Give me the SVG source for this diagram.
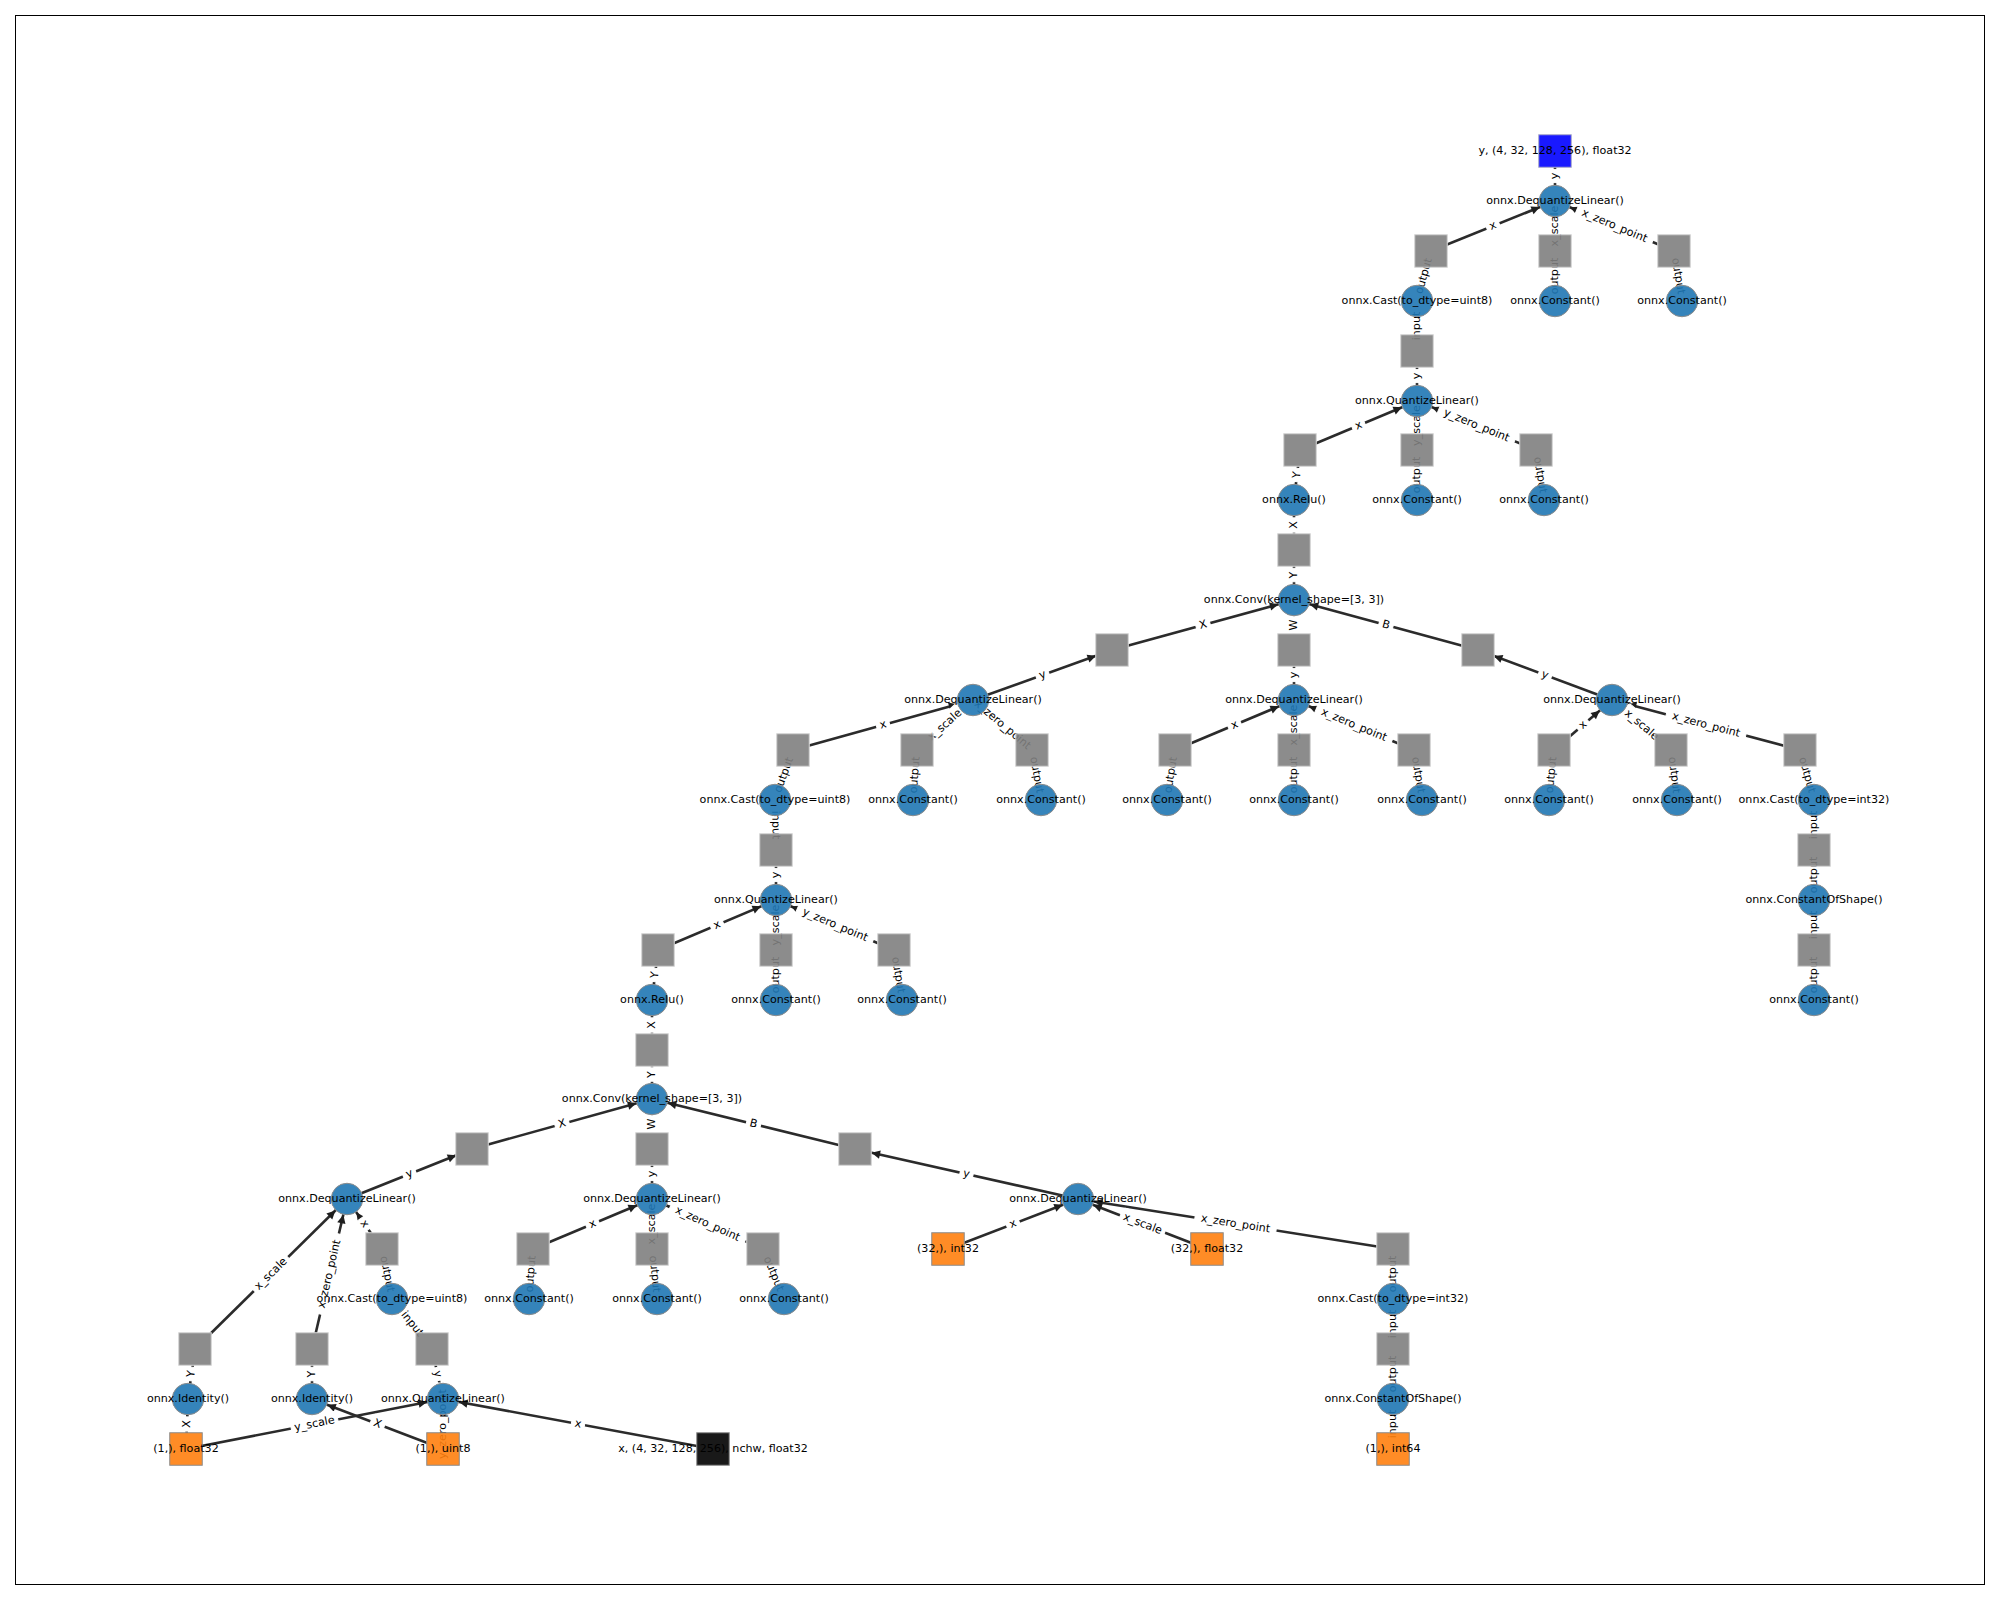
<svg xmlns="http://www.w3.org/2000/svg" width="2000" height="1600" viewBox="0 0 2000 1600">
<style>
text{font-family:"DejaVu Sans","Liberation Sans",sans-serif;font-size:11.11px;fill:#000;text-anchor:middle}
.op circle{fill:#1f77b4;fill-opacity:.9;stroke:#8c8c8c;stroke-width:1}
.t rect{fill:#808080;fill-opacity:.9;stroke:#d4d4d4;stroke-width:1}
.i rect{fill:#ff7f0e;fill-opacity:.9;stroke:#8c8c8c;stroke-width:1}
.in rect{fill:#000;fill-opacity:.9;stroke:#8c8c8c;stroke-width:1}
.out rect{fill:#0000ff;fill-opacity:.9;stroke:#a8a8c8;stroke-width:1}
#edges path{stroke:#2b2b2b;stroke-width:2.6;fill:none}
#edges .tc{marker-end:url(#ac)}
#edges .ts{marker-end:url(#as)}
.el rect{fill:#fff;stroke:#fff;stroke-width:1}
</style>
<defs>
<marker id="ac" markerUnits="userSpaceOnUse" orient="auto" refX="16.3" refY="0" markerWidth="1" markerHeight="1" overflow="visible"><path d="M0,0 L-8.5,-4.2 L-8.5,4.2 Z" fill="#1e1e1e"/></marker>
<marker id="as" markerUnits="userSpaceOnUse" orient="auto" refX="17" refY="0" markerWidth="1" markerHeight="1" overflow="visible"><path d="M0,0 L-8.5,-4.2 L-8.5,4.2 Z" fill="#1e1e1e"/></marker>
<mask id="nm" maskUnits="userSpaceOnUse" x="0" y="0" width="2000" height="1600">
<rect x="0" y="0" width="2000" height="1600" fill="#fff"/>
<g fill="#000">
<circle cx="1555" cy="201" r="15.75"/><circle cx="1417" cy="301" r="15.75"/><circle cx="1555" cy="301" r="15.75"/><circle cx="1682" cy="301" r="15.75"/>
<circle cx="1417" cy="401" r="15.75"/><circle cx="1294" cy="500" r="15.75"/><circle cx="1417" cy="500" r="15.75"/><circle cx="1544" cy="500" r="15.75"/>
<circle cx="1294" cy="600" r="15.75"/><circle cx="973" cy="700" r="15.75"/><circle cx="1294" cy="700" r="15.75"/><circle cx="1612" cy="700" r="15.75"/>
<circle cx="775" cy="800" r="15.75"/><circle cx="913" cy="800" r="15.75"/><circle cx="1041" cy="800" r="15.75"/><circle cx="1167" cy="800" r="15.75"/><circle cx="1294" cy="800" r="15.75"/><circle cx="1422" cy="800" r="15.75"/><circle cx="1549" cy="800" r="15.75"/><circle cx="1677" cy="800" r="15.75"/><circle cx="1814" cy="800" r="15.75"/>
<circle cx="776" cy="900" r="15.75"/><circle cx="1814" cy="900" r="15.75"/>
<circle cx="652" cy="1000" r="15.75"/><circle cx="776" cy="1000" r="15.75"/><circle cx="902" cy="1000" r="15.75"/><circle cx="1814" cy="1000" r="15.75"/>
<circle cx="652" cy="1099" r="15.75"/>
<circle cx="347" cy="1199" r="15.75"/><circle cx="652" cy="1199" r="15.75"/><circle cx="1078" cy="1199" r="15.75"/>
<circle cx="392" cy="1299" r="15.75"/><circle cx="529" cy="1299" r="15.75"/><circle cx="657" cy="1299" r="15.75"/><circle cx="784" cy="1299" r="15.75"/><circle cx="1393" cy="1299" r="15.75"/>
<circle cx="188" cy="1399" r="15.75"/><circle cx="312" cy="1399" r="15.75"/><circle cx="443" cy="1399" r="15.75"/><circle cx="1393" cy="1399" r="15.75"/>
<rect x="1538.75" y="134.75" width="32.5" height="32.5"/>
<rect x="1414.75" y="234.75" width="32.5" height="32.5"/><rect x="1538.75" y="234.75" width="32.5" height="32.5"/><rect x="1657.75" y="234.75" width="32.5" height="32.5"/>
<rect x="1400.75" y="334.75" width="32.5" height="32.5"/>
<rect x="1283.75" y="433.75" width="32.5" height="32.5"/><rect x="1400.75" y="433.75" width="32.5" height="32.5"/><rect x="1519.75" y="433.75" width="32.5" height="32.5"/>
<rect x="1277.75" y="533.75" width="32.5" height="32.5"/>
<rect x="1095.75" y="633.75" width="32.5" height="32.5"/><rect x="1277.75" y="633.75" width="32.5" height="32.5"/><rect x="1461.75" y="633.75" width="32.5" height="32.5"/>
<rect x="776.75" y="733.75" width="32.5" height="32.5"/><rect x="900.75" y="733.75" width="32.5" height="32.5"/><rect x="1015.75" y="733.75" width="32.5" height="32.5"/><rect x="1158.75" y="733.75" width="32.5" height="32.5"/><rect x="1277.75" y="733.75" width="32.5" height="32.5"/><rect x="1397.75" y="733.75" width="32.5" height="32.5"/><rect x="1537.75" y="733.75" width="32.5" height="32.5"/><rect x="1654.75" y="733.75" width="32.5" height="32.5"/><rect x="1783.75" y="733.75" width="32.5" height="32.5"/>
<rect x="759.75" y="833.75" width="32.5" height="32.5"/><rect x="1797.75" y="833.75" width="32.5" height="32.5"/>
<rect x="641.75" y="933.75" width="32.5" height="32.5"/><rect x="759.75" y="933.75" width="32.5" height="32.5"/><rect x="877.75" y="933.75" width="32.5" height="32.5"/><rect x="1797.75" y="933.75" width="32.5" height="32.5"/>
<rect x="635.75" y="1033.75" width="32.5" height="32.5"/>
<rect x="455.75" y="1132.75" width="32.5" height="32.5"/><rect x="635.75" y="1132.75" width="32.5" height="32.5"/><rect x="838.75" y="1132.75" width="32.5" height="32.5"/>
<rect x="365.75" y="1232.75" width="32.5" height="32.5"/><rect x="516.75" y="1232.75" width="32.5" height="32.5"/><rect x="635.75" y="1232.75" width="32.5" height="32.5"/><rect x="746.75" y="1232.75" width="32.5" height="32.5"/><rect x="931.75" y="1232.75" width="32.5" height="32.5"/><rect x="1190.75" y="1232.75" width="32.5" height="32.5"/><rect x="1376.75" y="1232.75" width="32.5" height="32.5"/>
<rect x="178.75" y="1332.75" width="32.5" height="32.5"/><rect x="295.75" y="1332.75" width="32.5" height="32.5"/><rect x="415.75" y="1332.75" width="32.5" height="32.5"/><rect x="1376.75" y="1332.75" width="32.5" height="32.5"/>
<rect x="169.75" y="1432.75" width="32.5" height="32.5"/><rect x="426.75" y="1432.75" width="32.5" height="32.5"/><rect x="696.75" y="1432.75" width="32.5" height="32.5"/><rect x="1376.75" y="1432.75" width="32.5" height="32.5"/>
</g>
</mask>
</defs>
<rect x="0" y="0" width="2000" height="1600" fill="#fff"/>
<rect x="15.5" y="15.5" width="1969" height="1569" fill="none" stroke="#000" stroke-width="1"/>

<g id="edges" mask="url(#nm)">
<path class="ts" d="M1555,201 L1555,151"/>
<path class="tc" d="M1431,251 L1555,201"/>
<path class="tc" d="M1555,251 L1555,201"/>
<path class="tc" d="M1674,251 L1555,201"/>
<path class="ts" d="M1417,301 L1431,251"/>
<path class="ts" d="M1555,301 L1555,251"/>
<path class="ts" d="M1682,301 L1674,251"/>
<path class="tc" d="M1417,351 L1417,301"/>
<path class="ts" d="M1417,401 L1417,351"/>
<path class="tc" d="M1300,450 L1417,401"/>
<path class="tc" d="M1417,450 L1417,401"/>
<path class="tc" d="M1536,450 L1417,401"/>
<path class="ts" d="M1294,500 L1300,450"/>
<path class="ts" d="M1417,500 L1417,450"/>
<path class="ts" d="M1544,500 L1536,450"/>
<path class="tc" d="M1294,550 L1294,500"/>
<path class="ts" d="M1294,600 L1294,550"/>
<path class="tc" d="M1112,650 L1294,600"/>
<path class="tc" d="M1294,650 L1294,600"/>
<path class="tc" d="M1478,650 L1294,600"/>
<path class="ts" d="M973,700 L1112,650"/>
<path class="ts" d="M1294,700 L1294,650"/>
<path class="ts" d="M1612,700 L1478,650"/>
<path class="tc" d="M793,750 L973,700"/>
<path class="tc" d="M917,750 L973,700"/>
<path class="tc" d="M1032,750 L973,700"/>
<path class="tc" d="M1175,750 L1294,700"/>
<path class="tc" d="M1294,750 L1294,700"/>
<path class="tc" d="M1414,750 L1294,700"/>
<path class="tc" d="M1554,750 L1612,700"/>
<path class="tc" d="M1671,750 L1612,700"/>
<path class="tc" d="M1800,750 L1612,700"/>
<path class="ts" d="M775,800 L793,750"/>
<path class="ts" d="M913,800 L917,750"/>
<path class="ts" d="M1041,800 L1032,750"/>
<path class="ts" d="M1167,800 L1175,750"/>
<path class="ts" d="M1294,800 L1294,750"/>
<path class="ts" d="M1422,800 L1414,750"/>
<path class="ts" d="M1549,800 L1554,750"/>
<path class="ts" d="M1677,800 L1671,750"/>
<path class="ts" d="M1814,800 L1800,750"/>
<path class="tc" d="M776,850 L775,800"/>
<path class="tc" d="M1814,850 L1814,800"/>
<path class="ts" d="M776,900 L776,850"/>
<path class="ts" d="M1814,900 L1814,850"/>
<path class="tc" d="M658,950 L776,900"/>
<path class="tc" d="M776,950 L776,900"/>
<path class="tc" d="M894,950 L776,900"/>
<path class="tc" d="M1814,950 L1814,900"/>
<path class="ts" d="M652,1000 L658,950"/>
<path class="ts" d="M776,1000 L776,950"/>
<path class="ts" d="M902,1000 L894,950"/>
<path class="ts" d="M1814,1000 L1814,950"/>
<path class="tc" d="M652,1050 L652,1000"/>
<path class="ts" d="M652,1099 L652,1050"/>
<path class="tc" d="M472,1149 L652,1099"/>
<path class="tc" d="M652,1149 L652,1099"/>
<path class="tc" d="M855,1149 L652,1099"/>
<path class="ts" d="M347,1199 L472,1149"/>
<path class="ts" d="M652,1199 L652,1149"/>
<path class="ts" d="M1078,1199 L855,1149"/>
<path class="tc" d="M382,1249 L347,1199"/>
<path class="tc" d="M195,1349 L347,1199"/>
<path class="tc" d="M312,1349 L347,1199"/>
<path class="tc" d="M533,1249 L652,1199"/>
<path class="tc" d="M652,1249 L652,1199"/>
<path class="tc" d="M763,1249 L652,1199"/>
<path class="tc" d="M948,1249 L1078,1199"/>
<path class="tc" d="M1207,1249 L1078,1199"/>
<path class="tc" d="M1393,1249 L1078,1199"/>
<path class="ts" d="M392,1299 L382,1249"/>
<path class="ts" d="M529,1299 L533,1249"/>
<path class="ts" d="M657,1299 L652,1249"/>
<path class="ts" d="M784,1299 L763,1249"/>
<path class="ts" d="M1393,1299 L1393,1249"/>
<path class="tc" d="M432,1349 L392,1299"/>
<path class="tc" d="M1393,1349 L1393,1299"/>
<path class="ts" d="M443,1399 L432,1349"/>
<path class="ts" d="M1393,1399 L1393,1349"/>
<path class="ts" d="M188,1399 L195,1349"/>
<path class="ts" d="M312,1399 L312,1349"/>
<path class="tc" d="M713,1449 L443,1399"/>
<path class="tc" d="M186,1449 L443,1399"/>
<path class="tc" d="M443,1449 L443,1399"/>
<path class="tc" d="M1393,1449 L1393,1399"/>
<path class="tc" d="M186,1449 L188,1399"/>
<path class="tc" d="M443,1449 L312,1399"/>
</g>

<g id="edge-labels">
<g class="el" transform="translate(1555,176) rotate(-90)"><rect x="-6.6" y="-8.7" width="13.2" height="17.4" rx="3.3"/><text y="3.1">y</text></g>
<g class="el" transform="translate(1493,226) rotate(-21.96)"><rect x="-6.6" y="-8.7" width="13.2" height="17.4" rx="3.3"/><text y="3.1">x</text></g>
<g class="el" transform="translate(1555,226) rotate(-90)"><rect x="-23.7" y="-8.7" width="47.4" height="17.4" rx="3.3"/><text y="3.1">x_scale</text></g>
<g class="el" transform="translate(1614.5,226) rotate(22.79)"><rect x="-41.05" y="-8.7" width="82.1" height="17.4" rx="3.3"/><text y="3.1">x_zero_point</text></g>
<g class="el" transform="translate(1424,276) rotate(-74.36)"><rect x="-21.65" y="-8.7" width="43.3" height="17.4" rx="3.3"/><text y="3.1">output</text></g>
<g class="el" transform="translate(1555,276) rotate(-90)"><rect x="-21.65" y="-8.7" width="43.3" height="17.4" rx="3.3"/><text y="3.1">output</text></g>
<g class="el" transform="translate(1678,276) rotate(80.91)"><rect x="-21.65" y="-8.7" width="43.3" height="17.4" rx="3.3"/><text y="3.1">output</text></g>
<g class="el" transform="translate(1417,326) rotate(-90)"><rect x="-17.6" y="-8.7" width="35.2" height="17.4" rx="3.3"/><text y="3.1">input</text></g>
<g class="el" transform="translate(1417,376) rotate(-90)"><rect x="-6.6" y="-8.7" width="13.2" height="17.4" rx="3.3"/><text y="3.1">y</text></g>
<g class="el" transform="translate(1358.5,425.5) rotate(-22.72)"><rect x="-6.6" y="-8.7" width="13.2" height="17.4" rx="3.3"/><text y="3.1">x</text></g>
<g class="el" transform="translate(1417,425.5) rotate(-90)"><rect x="-23.7" y="-8.7" width="47.4" height="17.4" rx="3.3"/><text y="3.1">y_scale</text></g>
<g class="el" transform="translate(1476.5,425.5) rotate(22.38)"><rect x="-41.05" y="-8.7" width="82.1" height="17.4" rx="3.3"/><text y="3.1">y_zero_point</text></g>
<g class="el" transform="translate(1297,475) rotate(-83.16)"><rect x="-6.75" y="-8.7" width="13.5" height="17.4" rx="3.3"/><text y="3.1">Y</text></g>
<g class="el" transform="translate(1417,475) rotate(-90)"><rect x="-21.65" y="-8.7" width="43.3" height="17.4" rx="3.3"/><text y="3.1">output</text></g>
<g class="el" transform="translate(1540,475) rotate(80.91)"><rect x="-21.65" y="-8.7" width="43.3" height="17.4" rx="3.3"/><text y="3.1">output</text></g>
<g class="el" transform="translate(1294,525) rotate(-90)"><rect x="-7.15" y="-8.7" width="14.3" height="17.4" rx="3.3"/><text y="3.1">X</text></g>
<g class="el" transform="translate(1294,575) rotate(-90)"><rect x="-6.75" y="-8.7" width="13.5" height="17.4" rx="3.3"/><text y="3.1">Y</text></g>
<g class="el" transform="translate(1203,625) rotate(-15.36)"><rect x="-7.15" y="-8.7" width="14.3" height="17.4" rx="3.3"/><text y="3.1">X</text></g>
<g class="el" transform="translate(1294,625) rotate(-90)"><rect x="-8.85" y="-8.7" width="17.7" height="17.4" rx="3.3"/><text y="3.1">W</text></g>
<g class="el" transform="translate(1386,625) rotate(15.2)"><rect x="-7.15" y="-8.7" width="14.3" height="17.4" rx="3.3"/><text y="3.1">B</text></g>
<g class="el" transform="translate(1042.5,675) rotate(-19.78)"><rect x="-6.6" y="-8.7" width="13.2" height="17.4" rx="3.3"/><text y="3.1">y</text></g>
<g class="el" transform="translate(1294,675) rotate(-90)"><rect x="-6.6" y="-8.7" width="13.2" height="17.4" rx="3.3"/><text y="3.1">y</text></g>
<g class="el" transform="translate(1545,675) rotate(20.46)"><rect x="-6.6" y="-8.7" width="13.2" height="17.4" rx="3.3"/><text y="3.1">y</text></g>
<g class="el" transform="translate(883,725) rotate(-15.52)"><rect x="-6.6" y="-8.7" width="13.2" height="17.4" rx="3.3"/><text y="3.1">x</text></g>
<g class="el" transform="translate(945,725) rotate(-41.76)"><rect x="-23.7" y="-8.7" width="47.4" height="17.4" rx="3.3"/><text y="3.1">x_scale</text></g>
<g class="el" transform="translate(1002.5,725) rotate(40.28)"><rect x="-41.05" y="-8.7" width="82.1" height="17.4" rx="3.3"/><text y="3.1">x_zero_point</text></g>
<g class="el" transform="translate(1234.5,725) rotate(-22.79)"><rect x="-6.6" y="-8.7" width="13.2" height="17.4" rx="3.3"/><text y="3.1">x</text></g>
<g class="el" transform="translate(1294,725) rotate(-90)"><rect x="-23.7" y="-8.7" width="47.4" height="17.4" rx="3.3"/><text y="3.1">x_scale</text></g>
<g class="el" transform="translate(1354,725) rotate(22.62)"><rect x="-41.05" y="-8.7" width="82.1" height="17.4" rx="3.3"/><text y="3.1">x_zero_point</text></g>
<g class="el" transform="translate(1583,725) rotate(-40.76)"><rect x="-6.6" y="-8.7" width="13.2" height="17.4" rx="3.3"/><text y="3.1">x</text></g>
<g class="el" transform="translate(1641.5,725) rotate(40.28)"><rect x="-23.7" y="-8.7" width="47.4" height="17.4" rx="3.3"/><text y="3.1">x_scale</text></g>
<g class="el" transform="translate(1706,725) rotate(14.89)"><rect x="-41.05" y="-8.7" width="82.1" height="17.4" rx="3.3"/><text y="3.1">x_zero_point</text></g>
<g class="el" transform="translate(784,775) rotate(-70.2)"><rect x="-21.65" y="-8.7" width="43.3" height="17.4" rx="3.3"/><text y="3.1">output</text></g>
<g class="el" transform="translate(915,775) rotate(-85.43)"><rect x="-21.65" y="-8.7" width="43.3" height="17.4" rx="3.3"/><text y="3.1">output</text></g>
<g class="el" transform="translate(1036.5,775) rotate(79.8)"><rect x="-21.65" y="-8.7" width="43.3" height="17.4" rx="3.3"/><text y="3.1">output</text></g>
<g class="el" transform="translate(1171,775) rotate(-80.91)"><rect x="-21.65" y="-8.7" width="43.3" height="17.4" rx="3.3"/><text y="3.1">output</text></g>
<g class="el" transform="translate(1294,775) rotate(-90)"><rect x="-21.65" y="-8.7" width="43.3" height="17.4" rx="3.3"/><text y="3.1">output</text></g>
<g class="el" transform="translate(1418,775) rotate(80.91)"><rect x="-21.65" y="-8.7" width="43.3" height="17.4" rx="3.3"/><text y="3.1">output</text></g>
<g class="el" transform="translate(1551.5,775) rotate(-84.29)"><rect x="-21.65" y="-8.7" width="43.3" height="17.4" rx="3.3"/><text y="3.1">output</text></g>
<g class="el" transform="translate(1674,775) rotate(83.16)"><rect x="-21.65" y="-8.7" width="43.3" height="17.4" rx="3.3"/><text y="3.1">output</text></g>
<g class="el" transform="translate(1807,775) rotate(74.36)"><rect x="-21.65" y="-8.7" width="43.3" height="17.4" rx="3.3"/><text y="3.1">output</text></g>
<g class="el" transform="translate(775.5,825) rotate(88.85)"><rect x="-17.6" y="-8.7" width="35.2" height="17.4" rx="3.3"/><text y="3.1">input</text></g>
<g class="el" transform="translate(1814,825) rotate(-90)"><rect x="-17.6" y="-8.7" width="35.2" height="17.4" rx="3.3"/><text y="3.1">input</text></g>
<g class="el" transform="translate(776,875) rotate(-90)"><rect x="-6.6" y="-8.7" width="13.2" height="17.4" rx="3.3"/><text y="3.1">y</text></g>
<g class="el" transform="translate(1814,875) rotate(-90)"><rect x="-21.65" y="-8.7" width="43.3" height="17.4" rx="3.3"/><text y="3.1">output</text></g>
<g class="el" transform="translate(717,925) rotate(-22.96)"><rect x="-6.6" y="-8.7" width="13.2" height="17.4" rx="3.3"/><text y="3.1">x</text></g>
<g class="el" transform="translate(776,925) rotate(-90)"><rect x="-23.7" y="-8.7" width="47.4" height="17.4" rx="3.3"/><text y="3.1">y_scale</text></g>
<g class="el" transform="translate(835,925) rotate(22.96)"><rect x="-41.05" y="-8.7" width="82.1" height="17.4" rx="3.3"/><text y="3.1">y_zero_point</text></g>
<g class="el" transform="translate(1814,925) rotate(-90)"><rect x="-17.6" y="-8.7" width="35.2" height="17.4" rx="3.3"/><text y="3.1">input</text></g>
<g class="el" transform="translate(655,975) rotate(-83.16)"><rect x="-6.75" y="-8.7" width="13.5" height="17.4" rx="3.3"/><text y="3.1">Y</text></g>
<g class="el" transform="translate(776,975) rotate(-90)"><rect x="-21.65" y="-8.7" width="43.3" height="17.4" rx="3.3"/><text y="3.1">output</text></g>
<g class="el" transform="translate(898,975) rotate(80.91)"><rect x="-21.65" y="-8.7" width="43.3" height="17.4" rx="3.3"/><text y="3.1">output</text></g>
<g class="el" transform="translate(1814,975) rotate(-90)"><rect x="-21.65" y="-8.7" width="43.3" height="17.4" rx="3.3"/><text y="3.1">output</text></g>
<g class="el" transform="translate(652,1025) rotate(-90)"><rect x="-7.15" y="-8.7" width="14.3" height="17.4" rx="3.3"/><text y="3.1">X</text></g>
<g class="el" transform="translate(652,1074.5) rotate(-90)"><rect x="-6.75" y="-8.7" width="13.5" height="17.4" rx="3.3"/><text y="3.1">Y</text></g>
<g class="el" transform="translate(562,1124) rotate(-15.52)"><rect x="-7.15" y="-8.7" width="14.3" height="17.4" rx="3.3"/><text y="3.1">X</text></g>
<g class="el" transform="translate(652,1124) rotate(-90)"><rect x="-8.85" y="-8.7" width="17.7" height="17.4" rx="3.3"/><text y="3.1">W</text></g>
<g class="el" transform="translate(753.5,1124) rotate(13.84)"><rect x="-7.15" y="-8.7" width="14.3" height="17.4" rx="3.3"/><text y="3.1">B</text></g>
<g class="el" transform="translate(409.5,1174) rotate(-21.8)"><rect x="-6.6" y="-8.7" width="13.2" height="17.4" rx="3.3"/><text y="3.1">y</text></g>
<g class="el" transform="translate(652,1174) rotate(-90)"><rect x="-6.6" y="-8.7" width="13.2" height="17.4" rx="3.3"/><text y="3.1">y</text></g>
<g class="el" transform="translate(966.5,1174) rotate(12.64)"><rect x="-6.6" y="-8.7" width="13.2" height="17.4" rx="3.3"/><text y="3.1">y</text></g>
<g class="el" transform="translate(364.5,1224) rotate(55.01)"><rect x="-6.6" y="-8.7" width="13.2" height="17.4" rx="3.3"/><text y="3.1">x</text></g>
<g class="el" transform="translate(271,1274) rotate(-44.62)"><rect x="-23.7" y="-8.7" width="47.4" height="17.4" rx="3.3"/><text y="3.1">x_scale</text></g>
<g class="el" transform="translate(329.5,1274) rotate(-76.87)"><rect x="-41.05" y="-8.7" width="82.1" height="17.4" rx="3.3"/><text y="3.1">x_zero_point</text></g>
<g class="el" transform="translate(592.5,1224) rotate(-22.79)"><rect x="-6.6" y="-8.7" width="13.2" height="17.4" rx="3.3"/><text y="3.1">x</text></g>
<g class="el" transform="translate(652,1224) rotate(-90)"><rect x="-23.7" y="-8.7" width="47.4" height="17.4" rx="3.3"/><text y="3.1">x_scale</text></g>
<g class="el" transform="translate(707.5,1224) rotate(24.25)"><rect x="-41.05" y="-8.7" width="82.1" height="17.4" rx="3.3"/><text y="3.1">x_zero_point</text></g>
<g class="el" transform="translate(1013,1224) rotate(-21.04)"><rect x="-6.6" y="-8.7" width="13.2" height="17.4" rx="3.3"/><text y="3.1">x</text></g>
<g class="el" transform="translate(1142.5,1224) rotate(21.18)"><rect x="-23.7" y="-8.7" width="47.4" height="17.4" rx="3.3"/><text y="3.1">x_scale</text></g>
<g class="el" transform="translate(1235.5,1224) rotate(9.02)"><rect x="-41.05" y="-8.7" width="82.1" height="17.4" rx="3.3"/><text y="3.1">x_zero_point</text></g>
<g class="el" transform="translate(387,1274) rotate(78.69)"><rect x="-21.65" y="-8.7" width="43.3" height="17.4" rx="3.3"/><text y="3.1">output</text></g>
<g class="el" transform="translate(531,1274) rotate(-85.43)"><rect x="-21.65" y="-8.7" width="43.3" height="17.4" rx="3.3"/><text y="3.1">output</text></g>
<g class="el" transform="translate(654.5,1274) rotate(84.29)"><rect x="-21.65" y="-8.7" width="43.3" height="17.4" rx="3.3"/><text y="3.1">output</text></g>
<g class="el" transform="translate(773.5,1274) rotate(67.22)"><rect x="-21.65" y="-8.7" width="43.3" height="17.4" rx="3.3"/><text y="3.1">output</text></g>
<g class="el" transform="translate(1393,1274) rotate(-90)"><rect x="-21.65" y="-8.7" width="43.3" height="17.4" rx="3.3"/><text y="3.1">output</text></g>
<g class="el" transform="translate(412,1324) rotate(51.34)"><rect x="-17.6" y="-8.7" width="35.2" height="17.4" rx="3.3"/><text y="3.1">input</text></g>
<g class="el" transform="translate(1393,1324) rotate(-90)"><rect x="-17.6" y="-8.7" width="35.2" height="17.4" rx="3.3"/><text y="3.1">input</text></g>
<g class="el" transform="translate(437.5,1374) rotate(77.59)"><rect x="-6.6" y="-8.7" width="13.2" height="17.4" rx="3.3"/><text y="3.1">y</text></g>
<g class="el" transform="translate(1393,1374) rotate(-90)"><rect x="-21.65" y="-8.7" width="43.3" height="17.4" rx="3.3"/><text y="3.1">output</text></g>
<g class="el" transform="translate(191.5,1374) rotate(-82.03)"><rect x="-6.75" y="-8.7" width="13.5" height="17.4" rx="3.3"/><text y="3.1">Y</text></g>
<g class="el" transform="translate(312,1374) rotate(-90)"><rect x="-6.75" y="-8.7" width="13.5" height="17.4" rx="3.3"/><text y="3.1">Y</text></g>
<g class="el" transform="translate(578,1424) rotate(10.49)"><rect x="-6.6" y="-8.7" width="13.2" height="17.4" rx="3.3"/><text y="3.1">x</text></g>
<g class="el" transform="translate(314.5,1424) rotate(-11.01)"><rect x="-23.7" y="-8.7" width="47.4" height="17.4" rx="3.3"/><text y="3.1">y_scale</text></g>
<g class="el" transform="translate(443,1424) rotate(-90)"><rect x="-41.05" y="-8.7" width="82.1" height="17.4" rx="3.3"/><text y="3.1">y_zero_point</text></g>
<g class="el" transform="translate(1393,1424) rotate(-90)"><rect x="-17.6" y="-8.7" width="35.2" height="17.4" rx="3.3"/><text y="3.1">input</text></g>
<g class="el" transform="translate(187,1424) rotate(-87.71)"><rect x="-7.15" y="-8.7" width="14.3" height="17.4" rx="3.3"/><text y="3.1">X</text></g>
<g class="el" transform="translate(377.5,1424) rotate(20.89)"><rect x="-7.15" y="-8.7" width="14.3" height="17.4" rx="3.3"/><text y="3.1">X</text></g>
</g>

<g id="nodes">
<g id="n_out" class="out" transform="translate(1555,151)"><rect x="-16.25" y="-16.25" width="32.5" height="32.5"/><text y="3.1">y, (4, 32, 128, 256), float32</text></g>
<g id="n_dq1" class="op" transform="translate(1555,201)"><circle r="15.75"/><text y="3.1">onnx.DequantizeLinear()</text></g>
<g id="n_g1" class="t" transform="translate(1431,251)"><rect x="-16.25" y="-16.25" width="32.5" height="32.5"/></g>
<g id="n_g2" class="t" transform="translate(1555,251)"><rect x="-16.25" y="-16.25" width="32.5" height="32.5"/></g>
<g id="n_g3" class="t" transform="translate(1674,251)"><rect x="-16.25" y="-16.25" width="32.5" height="32.5"/></g>
<g id="n_cast1" class="op" transform="translate(1417,301)"><circle r="15.75"/><text y="3.1">onnx.Cast(to_dtype=uint8)</text></g>
<g id="n_c1" class="op" transform="translate(1555,301)"><circle r="15.75"/><text y="3.1">onnx.Constant()</text></g>
<g id="n_c2" class="op" transform="translate(1682,301)"><circle r="15.75"/><text y="3.1">onnx.Constant()</text></g>
<g id="n_g4" class="t" transform="translate(1417,351)"><rect x="-16.25" y="-16.25" width="32.5" height="32.5"/></g>
<g id="n_q1" class="op" transform="translate(1417,401)"><circle r="15.75"/><text y="3.1">onnx.QuantizeLinear()</text></g>
<g id="n_g5" class="t" transform="translate(1300,450)"><rect x="-16.25" y="-16.25" width="32.5" height="32.5"/></g>
<g id="n_g6" class="t" transform="translate(1417,450)"><rect x="-16.25" y="-16.25" width="32.5" height="32.5"/></g>
<g id="n_g7" class="t" transform="translate(1536,450)"><rect x="-16.25" y="-16.25" width="32.5" height="32.5"/></g>
<g id="n_relu1" class="op" transform="translate(1294,500)"><circle r="15.75"/><text y="3.1">onnx.Relu()</text></g>
<g id="n_c3" class="op" transform="translate(1417,500)"><circle r="15.75"/><text y="3.1">onnx.Constant()</text></g>
<g id="n_c4" class="op" transform="translate(1544,500)"><circle r="15.75"/><text y="3.1">onnx.Constant()</text></g>
<g id="n_g8" class="t" transform="translate(1294,550)"><rect x="-16.25" y="-16.25" width="32.5" height="32.5"/></g>
<g id="n_conv1" class="op" transform="translate(1294,600)"><circle r="15.75"/><text y="3.1">onnx.Conv(kernel_shape=[3, 3])</text></g>
<g id="n_g9" class="t" transform="translate(1112,650)"><rect x="-16.25" y="-16.25" width="32.5" height="32.5"/></g>
<g id="n_g10" class="t" transform="translate(1294,650)"><rect x="-16.25" y="-16.25" width="32.5" height="32.5"/></g>
<g id="n_g11" class="t" transform="translate(1478,650)"><rect x="-16.25" y="-16.25" width="32.5" height="32.5"/></g>
<g id="n_dq2" class="op" transform="translate(973,700)"><circle r="15.75"/><text y="3.1">onnx.DequantizeLinear()</text></g>
<g id="n_dq3" class="op" transform="translate(1294,700)"><circle r="15.75"/><text y="3.1">onnx.DequantizeLinear()</text></g>
<g id="n_dq4" class="op" transform="translate(1612,700)"><circle r="15.75"/><text y="3.1">onnx.DequantizeLinear()</text></g>
<g id="n_g12" class="t" transform="translate(793,750)"><rect x="-16.25" y="-16.25" width="32.5" height="32.5"/></g>
<g id="n_g13" class="t" transform="translate(917,750)"><rect x="-16.25" y="-16.25" width="32.5" height="32.5"/></g>
<g id="n_g14" class="t" transform="translate(1032,750)"><rect x="-16.25" y="-16.25" width="32.5" height="32.5"/></g>
<g id="n_g15" class="t" transform="translate(1175,750)"><rect x="-16.25" y="-16.25" width="32.5" height="32.5"/></g>
<g id="n_g16" class="t" transform="translate(1294,750)"><rect x="-16.25" y="-16.25" width="32.5" height="32.5"/></g>
<g id="n_g17" class="t" transform="translate(1414,750)"><rect x="-16.25" y="-16.25" width="32.5" height="32.5"/></g>
<g id="n_g18" class="t" transform="translate(1554,750)"><rect x="-16.25" y="-16.25" width="32.5" height="32.5"/></g>
<g id="n_g19" class="t" transform="translate(1671,750)"><rect x="-16.25" y="-16.25" width="32.5" height="32.5"/></g>
<g id="n_g20" class="t" transform="translate(1800,750)"><rect x="-16.25" y="-16.25" width="32.5" height="32.5"/></g>
<g id="n_cast2" class="op" transform="translate(775,800)"><circle r="15.75"/><text y="3.1">onnx.Cast(to_dtype=uint8)</text></g>
<g id="n_c5" class="op" transform="translate(913,800)"><circle r="15.75"/><text y="3.1">onnx.Constant()</text></g>
<g id="n_c6" class="op" transform="translate(1041,800)"><circle r="15.75"/><text y="3.1">onnx.Constant()</text></g>
<g id="n_c7" class="op" transform="translate(1167,800)"><circle r="15.75"/><text y="3.1">onnx.Constant()</text></g>
<g id="n_c8" class="op" transform="translate(1294,800)"><circle r="15.75"/><text y="3.1">onnx.Constant()</text></g>
<g id="n_c9" class="op" transform="translate(1422,800)"><circle r="15.75"/><text y="3.1">onnx.Constant()</text></g>
<g id="n_c10" class="op" transform="translate(1549,800)"><circle r="15.75"/><text y="3.1">onnx.Constant()</text></g>
<g id="n_c11" class="op" transform="translate(1677,800)"><circle r="15.75"/><text y="3.1">onnx.Constant()</text></g>
<g id="n_cast3" class="op" transform="translate(1814,800)"><circle r="15.75"/><text y="3.1">onnx.Cast(to_dtype=int32)</text></g>
<g id="n_g21" class="t" transform="translate(776,850)"><rect x="-16.25" y="-16.25" width="32.5" height="32.5"/></g>
<g id="n_g22" class="t" transform="translate(1814,850)"><rect x="-16.25" y="-16.25" width="32.5" height="32.5"/></g>
<g id="n_q2" class="op" transform="translate(776,900)"><circle r="15.75"/><text y="3.1">onnx.QuantizeLinear()</text></g>
<g id="n_cos1" class="op" transform="translate(1814,900)"><circle r="15.75"/><text y="3.1">onnx.ConstantOfShape()</text></g>
<g id="n_g23" class="t" transform="translate(658,950)"><rect x="-16.25" y="-16.25" width="32.5" height="32.5"/></g>
<g id="n_g24" class="t" transform="translate(776,950)"><rect x="-16.25" y="-16.25" width="32.5" height="32.5"/></g>
<g id="n_g25" class="t" transform="translate(894,950)"><rect x="-16.25" y="-16.25" width="32.5" height="32.5"/></g>
<g id="n_g26" class="t" transform="translate(1814,950)"><rect x="-16.25" y="-16.25" width="32.5" height="32.5"/></g>
<g id="n_relu2" class="op" transform="translate(652,1000)"><circle r="15.75"/><text y="3.1">onnx.Relu()</text></g>
<g id="n_c12" class="op" transform="translate(776,1000)"><circle r="15.75"/><text y="3.1">onnx.Constant()</text></g>
<g id="n_c13" class="op" transform="translate(902,1000)"><circle r="15.75"/><text y="3.1">onnx.Constant()</text></g>
<g id="n_c14" class="op" transform="translate(1814,1000)"><circle r="15.75"/><text y="3.1">onnx.Constant()</text></g>
<g id="n_g27" class="t" transform="translate(652,1050)"><rect x="-16.25" y="-16.25" width="32.5" height="32.5"/></g>
<g id="n_conv2" class="op" transform="translate(652,1099)"><circle r="15.75"/><text y="3.1">onnx.Conv(kernel_shape=[3, 3])</text></g>
<g id="n_g28" class="t" transform="translate(472,1149)"><rect x="-16.25" y="-16.25" width="32.5" height="32.5"/></g>
<g id="n_g29" class="t" transform="translate(652,1149)"><rect x="-16.25" y="-16.25" width="32.5" height="32.5"/></g>
<g id="n_g30" class="t" transform="translate(855,1149)"><rect x="-16.25" y="-16.25" width="32.5" height="32.5"/></g>
<g id="n_dq5" class="op" transform="translate(347,1199)"><circle r="15.75"/><text y="3.1">onnx.DequantizeLinear()</text></g>
<g id="n_dq6" class="op" transform="translate(652,1199)"><circle r="15.75"/><text y="3.1">onnx.DequantizeLinear()</text></g>
<g id="n_dq7" class="op" transform="translate(1078,1199)"><circle r="15.75"/><text y="3.1">onnx.DequantizeLinear()</text></g>
<g id="n_g31" class="t" transform="translate(382,1249)"><rect x="-16.25" y="-16.25" width="32.5" height="32.5"/></g>
<g id="n_g32" class="t" transform="translate(533,1249)"><rect x="-16.25" y="-16.25" width="32.5" height="32.5"/></g>
<g id="n_g33" class="t" transform="translate(652,1249)"><rect x="-16.25" y="-16.25" width="32.5" height="32.5"/></g>
<g id="n_g34" class="t" transform="translate(763,1249)"><rect x="-16.25" y="-16.25" width="32.5" height="32.5"/></g>
<g id="n_o1" class="i" transform="translate(948,1249)"><rect x="-16.25" y="-16.25" width="32.5" height="32.5"/><text y="3.1">(32,), int32</text></g>
<g id="n_o2" class="i" transform="translate(1207,1249)"><rect x="-16.25" y="-16.25" width="32.5" height="32.5"/><text y="3.1">(32,), float32</text></g>
<g id="n_g35" class="t" transform="translate(1393,1249)"><rect x="-16.25" y="-16.25" width="32.5" height="32.5"/></g>
<g id="n_cast4" class="op" transform="translate(392,1299)"><circle r="15.75"/><text y="3.1">onnx.Cast(to_dtype=uint8)</text></g>
<g id="n_c15" class="op" transform="translate(529,1299)"><circle r="15.75"/><text y="3.1">onnx.Constant()</text></g>
<g id="n_c16" class="op" transform="translate(657,1299)"><circle r="15.75"/><text y="3.1">onnx.Constant()</text></g>
<g id="n_c17" class="op" transform="translate(784,1299)"><circle r="15.75"/><text y="3.1">onnx.Constant()</text></g>
<g id="n_cast5" class="op" transform="translate(1393,1299)"><circle r="15.75"/><text y="3.1">onnx.Cast(to_dtype=int32)</text></g>
<g id="n_g36" class="t" transform="translate(195,1349)"><rect x="-16.25" y="-16.25" width="32.5" height="32.5"/></g>
<g id="n_g37" class="t" transform="translate(312,1349)"><rect x="-16.25" y="-16.25" width="32.5" height="32.5"/></g>
<g id="n_g38" class="t" transform="translate(432,1349)"><rect x="-16.25" y="-16.25" width="32.5" height="32.5"/></g>
<g id="n_g39" class="t" transform="translate(1393,1349)"><rect x="-16.25" y="-16.25" width="32.5" height="32.5"/></g>
<g id="n_id1" class="op" transform="translate(188,1399)"><circle r="15.75"/><text y="3.1">onnx.Identity()</text></g>
<g id="n_id2" class="op" transform="translate(312,1399)"><circle r="15.75"/><text y="3.1">onnx.Identity()</text></g>
<g id="n_q3" class="op" transform="translate(443,1399)"><circle r="15.75"/><text y="3.1">onnx.QuantizeLinear()</text></g>
<g id="n_cos2" class="op" transform="translate(1393,1399)"><circle r="15.75"/><text y="3.1">onnx.ConstantOfShape()</text></g>
<g id="n_o3" class="i" transform="translate(186,1449)"><rect x="-16.25" y="-16.25" width="32.5" height="32.5"/><text y="3.1">(1,), float32</text></g>
<g id="n_o4" class="i" transform="translate(443,1449)"><rect x="-16.25" y="-16.25" width="32.5" height="32.5"/><text y="3.1">(1,), uint8</text></g>
<g id="n_x" class="in" transform="translate(713,1449)"><rect x="-16.25" y="-16.25" width="32.5" height="32.5"/><text y="3.1">x, (4, 32, 128, 256), nchw, float32</text></g>
<g id="n_o5" class="i" transform="translate(1393,1449)"><rect x="-16.25" y="-16.25" width="32.5" height="32.5"/><text y="3.1">(1,), int64</text></g>
</g>
</svg>
